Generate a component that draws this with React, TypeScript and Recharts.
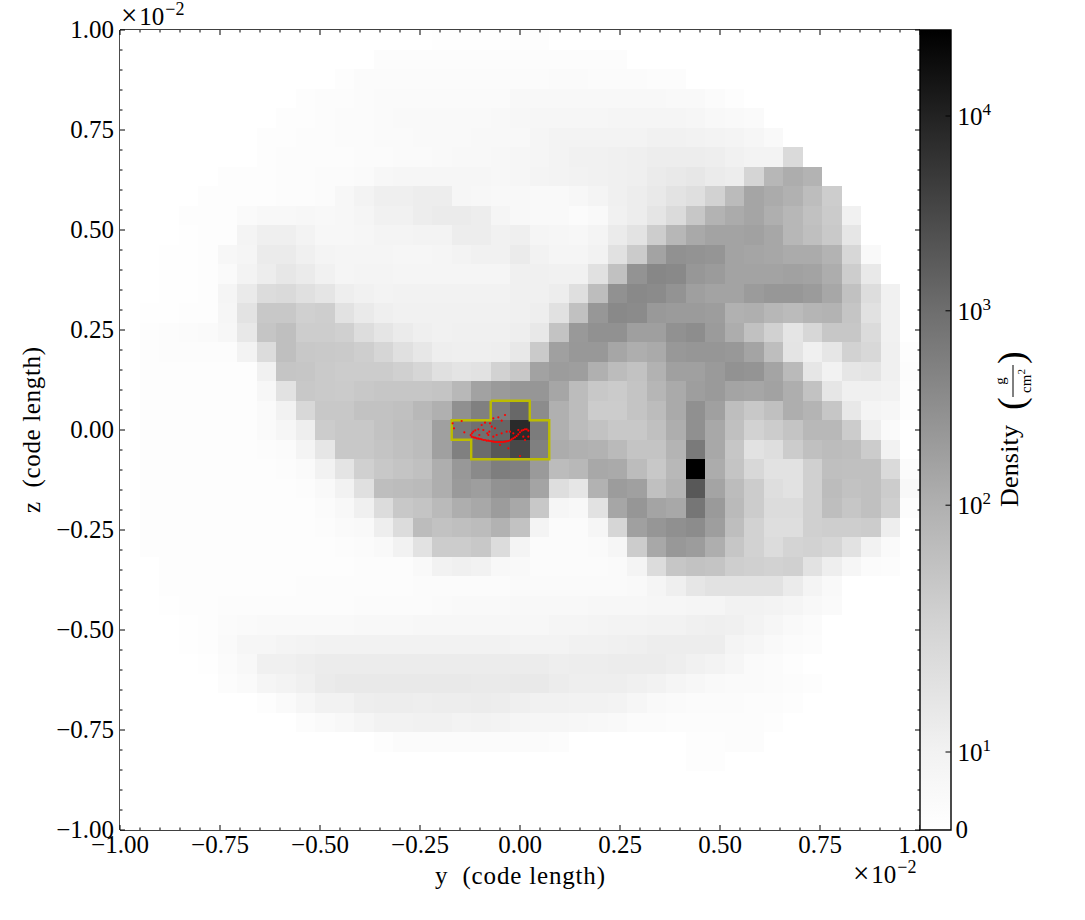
import { Bar, BarChart, Scatter, ScatterChart, XAxis, YAxis } from 'recharts';

// bin centres, in units of 1e-2 code length (41 x 41 projection)
const binCentres = [
  -0.9756, -0.9268, -0.878, -0.8293, -0.7805, -0.7317, -0.6829, -0.6341, -0.5854, -0.5366, -0.4878,
  -0.439, -0.3902, -0.3415, -0.2927, -0.2439, -0.1951, -0.1463, -0.0976, -0.0488, 0, 0.0488, 0.0976,
  0.1463, 0.1951, 0.2439, 0.2927, 0.3415, 0.3902, 0.439, 0.4878, 0.5366, 0.5854, 0.6341, 0.6829,
  0.7317, 0.7805, 0.8293, 0.878, 0.9268, 0.9756,
];

// darkness on the colourbar, 0 = white, 255 = black; first row is the top of the plot
const shade = [
  [0,0,0,0,0,0,0,0,0,0,0,0,0,0,0,0,1,1,1,1,2,2,0,0,0,0,0,0,0,0,0,0,0,0,0,0,0,0,0,0,0],
  [0,0,0,0,0,0,0,0,0,0,0,0,0,3,3,3,3,3,3,3,3,3,3,3,3,3,0,0,0,0,0,0,0,0,0,0,0,0,0,0,0],
  [0,0,0,0,0,0,0,0,0,0,0,2,4,4,4,4,4,4,4,4,4,4,5,5,4,4,4,3,3,0,0,0,0,0,0,0,0,0,0,0,0],
  [0,0,0,0,0,0,0,0,0,2,3,3,4,5,5,5,5,5,5,5,7,7,7,7,7,7,7,7,6,6,4,2,0,0,0,0,0,0,0,0,0],
  [0,0,0,0,0,0,0,0,2,2,3,4,4,5,6,6,6,6,6,7,8,9,9,9,9,10,10,10,10,9,7,6,5,0,0,0,0,0,0,0,0],
  [0,0,0,0,0,0,0,2,2,3,3,4,4,5,5,6,6,6,7,7,7,10,12,12,12,12,12,14,14,13,12,11,9,6,0,0,0,0,0,0,0],
  [0,0,0,0,0,0,0,2,3,3,3,3,4,4,5,5,6,7,7,8,9,10,12,14,14,15,16,18,18,18,17,14,12,12,37,0,0,0,0,0,0],
  [0,0,0,0,0,2,2,2,3,3,4,4,5,8,9,9,9,9,9,8,9,11,12,13,14,15,16,20,22,24,20,18,42,72,82,76,0,0,0,0,0],
  [0,0,0,0,2,2,2,2,3,3,4,8,12,16,16,18,18,9,8,7,7,6,6,8,11,15,18,22,28,32,45,68,90,84,78,66,50,0,0,0,0],
  [0,0,0,2,2,2,5,7,7,8,7,8,10,14,14,18,20,20,18,10,7,6,6,4,6,14,18,26,36,56,76,84,90,80,72,62,52,14,0,0,0],
  [0,0,0,1,2,2,11,16,16,12,8,8,9,11,11,12,12,18,18,14,16,10,9,8,11,20,28,50,72,86,92,92,94,88,72,64,54,25,0,0,0],
  [0,0,1,1,2,8,10,20,20,15,11,10,10,10,9,9,10,12,14,14,20,13,10,10,13,30,52,92,110,108,106,92,90,88,84,84,76,40,6,0,0],
  [0,0,1,1,2,5,12,18,24,20,14,10,11,11,10,10,10,10,10,10,15,15,14,14,30,62,108,120,118,104,100,92,92,92,94,92,82,50,22,0,0],
  [0,0,1,1,2,10,21,35,37,31,26,17,14,12,13,13,13,13,13,13,15,15,18,32,66,110,118,116,108,96,92,92,100,104,104,100,88,62,34,14,0],
  [0,1,1,2,2,9,28,55,55,47,49,29,21,16,14,14,14,14,14,14,15,17,30,62,104,118,116,102,100,100,98,78,80,72,68,74,76,58,30,14,0],
  [0,2,3,4,5,8,23,58,64,50,50,47,34,26,20,16,14,15,15,15,17,23,60,102,110,110,96,96,110,114,100,82,62,46,26,40,56,56,36,14,0],
  [0,2,3,3,3,3,12,35,64,55,54,53,49,41,31,24,17,16,16,17,23,53,95,103,103,89,81,85,103,105,105,103,91,65,27,15,25,45,39,15,2],
  [0,2,2,2,2,2,2,14,58,57,53,51,51,51,47,41,31,27,29,45,55,93,99,97,79,67,61,77,95,95,101,109,107,91,69,25,13,25,27,15,3],
  [0,2,2,2,2,2,2,8,29,55,53,52,55,57,57,57,59,71,93,101,105,105,89,67,55,52,59,73,85,97,101,91,89,93,81,61,25,15,15,13,2],
  [0,2,2,2,2,2,2,5,13,39,55,55,61,61,63,71,79,111,127,131,151,115,79,67,51,51,59,67,85,111,95,65,55,63,81,75,57,23,11,9,2],
  [0,2,2,2,2,2,2,5,9,17,51,55,55,61,65,67,95,135,143,153,213,131,79,67,61,55,55,63,81,111,87,63,45,51,59,71,71,51,17,5,0],
  [0,2,2,2,2,2,2,3,4,11,25,55,55,59,63,67,95,127,147,167,183,127,83,79,77,69,59,59,75,133,87,57,29,33,51,63,67,65,51,13,0],
  [0,2,2,2,2,2,2,2,3,5,13,27,47,55,59,63,81,103,117,129,127,101,67,71,87,85,67,55,71,255,83,59,39,29,29,47,64,63,63,37,4],
  [0,2,2,2,2,2,2,2,2,3,6,13,31,65,67,69,81,101,97,109,111,91,33,25,77,99,95,63,75,167,91,67,51,33,29,47,67,61,63,51,7],
  [0,2,2,2,2,2,2,2,2,2,4,7,15,35,55,59,69,81,87,99,87,55,9,7,29,89,105,91,87,137,101,69,51,35,35,47,65,57,63,48,3],
  [0,2,2,2,2,2,2,2,2,2,3,5,6,17,35,67,61,64,67,77,61,11,4,4,9,41,95,105,111,115,97,65,45,33,33,47,49,49,51,17,0],
  [0,2,2,2,2,2,2,2,2,2,2,3,4,6,13,29,51,51,55,35,11,4,4,4,5,9,51,87,103,99,81,57,45,35,43,45,41,29,13,5,0],
  [0,0,2,2,2,2,2,2,2,2,2,2,3,3,3,6,13,15,13,7,6,4,4,4,4,5,11,35,57,61,59,49,47,45,47,29,17,9,4,3,0],
  [0,0,2,2,2,2,2,2,2,3,3,3,3,3,3,4,4,4,4,4,5,5,5,5,5,5,6,10,16,25,29,29,29,29,20,11,6,0,0,0,0],
  [0,0,1,2,2,3,3,3,3,3,3,3,4,4,4,4,5,6,6,6,7,7,7,7,8,8,8,9,9,10,10,13,13,12,10,7,5,0,0,0,0],
  [0,0,0,1,2,4,5,6,6,6,6,6,7,7,7,8,8,8,8,8,8,8,10,10,11,12,12,13,13,15,16,15,12,9,6,4,0,0,0,0,0],
  [0,0,0,1,2,5,9,9,11,12,13,13,13,13,13,13,13,13,13,13,12,12,12,14,14,15,16,18,18,18,18,11,9,6,4,3,0,0,0,0,0],
  [0,0,0,0,1,4,7,15,15,17,19,19,19,19,19,19,19,19,19,19,19,19,17,18,18,19,19,19,17,14,12,9,5,4,2,0,0,0,0,0,0],
  [0,0,0,0,0,3,5,10,12,15,20,22,22,22,22,22,22,22,21,21,22,22,19,17,17,17,15,13,10,8,6,5,5,4,3,2,0,0,0,0,0],
  [0,0,0,0,0,0,0,2,5,9,13,13,17,18,18,17,18,18,19,18,16,14,14,13,13,12,9,6,5,4,4,4,3,3,2,0,0,0,0,0,0],
  [0,0,0,0,0,0,0,0,0,3,5,7,10,13,13,14,14,12,13,12,10,9,9,8,7,6,4,4,3,3,3,3,3,2,0,0,0,0,0,0,0],
  [0,0,0,0,0,0,0,0,0,0,0,0,0,2,4,4,4,4,4,4,4,4,3,0,0,0,0,0,0,2,2,3,3,0,0,0,0,0,0,0,0],
  [0,0,0,0,0,0,0,0,0,0,0,0,0,0,0,0,0,0,0,0,0,0,0,0,0,0,0,0,0,2,2,0,0,0,0,0,0,0,0,0,0],
  [0,0,0,0,0,0,0,0,0,0,0,0,0,0,0,0,0,0,0,0,0,0,0,0,0,0,0,0,0,0,0,0,0,0,0,0,0,0,0,0,0],
  [0,0,0,0,0,0,0,0,0,0,0,0,0,0,0,0,0,0,0,0,0,0,0,0,0,0,0,0,0,0,0,0,0,0,0,0,0,0,0,0,0],
  [0,0,0,0,0,0,0,0,0,0,0,0,0,0,0,0,0,0,0,0,0,0,0,0,0,0,0,0,0,0,0,0,0,0,0,0,0,0,0,0,0],
];

// refinement outline around the central cells
const outlineY = [-0.0732, 0.0244, 0.0244, 0.0732, 0.0732, -0.122, -0.122, -0.1707, -0.1707, -0.0732, -0.0732];
const outlineZ = [0.0732, 0.0732, 0.0244, 0.0244, -0.0732, -0.0732, -0.0244, -0.0244, 0.0244, 0.0244, 0.0732];

// particles
const particleY = [
  -0.1233, -0.1208, -0.1167, -0.1125, -0.1083, -0.1042, -0.1, -0.0958, -0.0917, -0.0875, -0.0833, -0.0792, -0.075,
  -0.0708, -0.0667, -0.0625, -0.0583, -0.0542, -0.05, -0.0458, -0.0417, -0.0375, -0.0333, -0.0292, -0.025, -0.0208,
  -0.0167, -0.0125, -0.0083, -0.0042, 0, 0.0042, 0.0083, 0.0125, 0.0167, 0.0208, -0.12, -0.1167, -0.1117, -0.1042,
  -0.1683, -0.165, -0.1458, -0.1392, -0.0958, -0.0875, -0.075, -0.0667, -0.0542, -0.0375, -0.0458, -0.025, -0.0292,
  0, 0.0125, 0.0208, -0.05, -0.0767, -0.0917, -0.0625, -0.0333, -0.0167, -0.1017, -0.0817, -0.0667, -0.0583, -0.0708,
  -0.0792, -0.0458, 0.0083, -0.0042,
];
const particleZ = [
  -0.0125, -0.0167, -0.0183, -0.0192, -0.0208, -0.0217, -0.0225, -0.0233, -0.025, -0.025, -0.0267, -0.0267, -0.0275,
  -0.0283, -0.0292, -0.03, -0.03, -0.03, -0.03, -0.03, -0.03, -0.0292, -0.0283, -0.0275, -0.0258, -0.0233,
  -0.0208, -0.0183, -0.015, -0.0108, -0.0058, -0.0017, 0, 0.0017, 0.0017, -0.0017, -0.0083, -0.0042, -0.0008, 0.0017,
  0.0167, 0.0042, 0.0225, -0.0058, 0.0125, 0.0183, 0.0167, 0.0292, 0.0317, 0.0375, 0.0233, -0.0042, -0.0458,
  -0.065, -0.025, -0.0167, -0.0375, -0.0042, 0, 0.0042, -0.0042, -0.0083, -0.0125, -0.0083, -0.0167, -0.0125, 0.0083,
  -0.0125, -0.0083, -0.0167, 0,
];

const axisTicks = [
  -1, -0.95, -0.9, -0.85, -0.8, -0.75, -0.7, -0.65, -0.6, -0.55, -0.5, -0.45, -0.4, -0.35, -0.3, -0.25, -0.2, -0.15,
  -0.1, -0.05, 0, 0.05, 0.1, 0.15, 0.2, 0.25, 0.3, 0.35, 0.4, 0.45, 0.5, 0.55, 0.6, 0.65, 0.7, 0.75, 0.8, 0.85, 0.9,
  0.95, 1,
];
const majorTicks = [-1, -0.75, -0.5, -0.25, 0, 0.25, 0.5, 0.75, 1];

// colourbar: symlog position (0 bottom, 1 top) against grey level
const colorbarPos = [0, 0.0975, 0.2625, 0.406, 0.649, 0.8925, 1];
const colorbarGrey = [255, 242, 210, 176, 110, 34, 0];
const colorbarTickPos = [0, 0.0975, 0.406, 0.649, 0.8925];
const colorbarExponent = ['', '1', '2', '3', '4'];

const cells = shade.flatMap((row, r) =>
  row.map((s, c) => ({ y: binCentres[c], z: binCentres[40 - r], s })),
);
const outline = outlineY.map((y, i) => ({ y, z: outlineZ[i] }));
const particles = particleY.map((y, i) => ({ y, z: particleZ[i] }));

const W = 1085;
const H = 920;
const CELL = 800 / 41;
const FONT = '"Liberation Serif", serif';
const TICK_SIZE = 25;

const tickLabel = (v: number) => v.toFixed(2).replace('-', '\u2212');

function CellShape(props: any) {
  const g = 255 - props.payload.s;
  return (
    <rect
      x={props.cx - CELL / 2}
      y={props.cy - CELL / 2}
      width={CELL + 0.4}
      height={CELL + 0.4}
      fill={`rgb(${g},${g},${g})`}
      shapeRendering="crispEdges"
    />
  );
}

function BottomTick({ x, y, payload }: any) {
  const major = majorTicks.includes(payload.value);
  return (
    <g>
      <line x1={x} x2={x} y1={y} y2={y - (major ? 5 : 2.5)} stroke="#000" strokeWidth={1} />
      {major && (
        <text x={x} y={y + 23} textAnchor="middle" fontFamily={FONT} fontSize={TICK_SIZE} fill="#000">
          {tickLabel(payload.value)}
        </text>
      )}
    </g>
  );
}

function TopTick({ x, y, payload }: any) {
  const major = majorTicks.includes(payload.value);
  return <line x1={x} x2={x} y1={y} y2={y + (major ? 5 : 2.5)} stroke="#000" strokeWidth={1} />;
}

function LeftTick({ x, y, payload }: any) {
  const major = majorTicks.includes(payload.value);
  return (
    <g>
      <line x1={x} x2={x + (major ? 5 : 2.5)} y1={y} y2={y} stroke="#000" strokeWidth={1} />
      {major && (
        <text x={x - 6} y={y + 8} textAnchor="end" fontFamily={FONT} fontSize={TICK_SIZE} fill="#000">
          {tickLabel(payload.value)}
        </text>
      )}
    </g>
  );
}

function RightTick({ x, y, payload }: any) {
  const major = majorTicks.includes(payload.value);
  return <line x1={x} x2={x - (major ? 5 : 2.5)} y1={y} y2={y} stroke="#000" strokeWidth={1} />;
}

function ColorbarTick({ x, y, payload }: any) {
  const i = colorbarTickPos.indexOf(payload.value);
  if (i === 0) {
    return (
      <text x={x + 5} y={y + 8} fontFamily={FONT} fontSize={TICK_SIZE} fill="#000">
        0
      </text>
    );
  }
  return (
    <g>
      <line x1={x} x2={x - 5} y1={y} y2={y} stroke="#000" strokeWidth={1} />
      <text x={x + 7} y={y + 9} fontFamily={FONT} fontSize={TICK_SIZE} fill="#000">
        10
        <tspan dy={-10} fontSize={17}>
          {colorbarExponent[i]}
        </tspan>
      </text>
    </g>
  );
}

function OffsetText({ x, y }: { x: number; y: number }) {
  return (
    <text x={x} y={y} fontFamily={FONT} fontSize={TICK_SIZE} fill="#000">
      <tspan fontSize={29}>×</tspan>
      <tspan dx={2}>10</tspan>
      <tspan dy={-10} dx={1} fontSize={18}>
        −2
      </tspan>
    </text>
  );
}

function Annotations() {
  return (
    <svg width={W} height={H} style={{ position: 'absolute', left: 0, top: 0, pointerEvents: 'none' }}>
      <OffsetText x={121} y={25} />
      <OffsetText x={853} y={883} />
      <text x={435} y={884} fontFamily={FONT} fontSize={25} textLength={170} xmlSpace="preserve">
        y  (code length)
      </text>
      <g transform="translate(40,513) rotate(-90)">
        <text x={0} y={0} fontFamily={FONT} fontSize={25} textLength={166} xmlSpace="preserve">
          z  (code length)
        </text>
      </g>
      <g transform="translate(1018,507) rotate(-90)">
        <text x={0} y={0} fontFamily={FONT} fontSize={26} textLength={82}>
          Density
        </text>
        <text x={97} y={6} fontFamily={FONT} fontSize={38} fontWeight={300}>
          (
        </text>
        <text x={126} y={-13} textAnchor="middle" fontFamily={FONT} fontSize={15}>
          g
        </text>
        <line x1={110} x2={142} y1={-5} y2={-5} stroke="#000" strokeWidth={1} />
        <text x={126} y={13} textAnchor="middle" fontFamily={FONT} fontSize={15}>
          cm
          <tspan dy={-6} fontSize={11}>
            2
          </tspan>
        </text>
        <text x={143} y={6} fontFamily={FONT} fontSize={38} fontWeight={300}>
          )
        </text>
      </g>
    </svg>
  );
}

export default function App() {
  return (
    <div style={{ position: 'absolute', left: 0, top: 0, width: W, height: H, background: '#fff' }}>
      <div style={{ position: 'absolute', left: 0, top: 0 }}>
        <ScatterChart width={W} height={H} margin={{ top: 29, right: W - 921, bottom: H - 831, left: 119 }}>
          <XAxis
            xAxisId="bottom"
            type="number"
            dataKey="y"
            domain={[-1, 1]}
            ticks={axisTicks}
            interval={0}
            height={1}
            tickSize={0}
            tickMargin={0}
            tickLine={false}
            axisLine={{ stroke: '#000', strokeWidth: 1.4 }}
            tick={BottomTick}
            allowDataOverflow
          />
          <XAxis
            xAxisId="top"
            orientation="top"
            type="number"
            dataKey="y"
            domain={[-1, 1]}
            ticks={axisTicks}
            interval={0}
            height={1}
            tickSize={0}
            tickMargin={0}
            tickLine={false}
            axisLine={{ stroke: '#000', strokeWidth: 1.4 }}
            tick={TopTick}
            allowDataOverflow
          />
          <YAxis
            yAxisId="left"
            type="number"
            dataKey="z"
            domain={[-1, 1]}
            ticks={axisTicks}
            interval={0}
            width={1}
            tickSize={0}
            tickMargin={0}
            tickLine={false}
            axisLine={{ stroke: '#000', strokeWidth: 1.4 }}
            tick={LeftTick}
            allowDataOverflow
          />
          <YAxis
            yAxisId="right"
            orientation="right"
            type="number"
            dataKey="z"
            domain={[-1, 1]}
            ticks={axisTicks}
            interval={0}
            width={1}
            tickSize={0}
            tickMargin={0}
            tickLine={false}
            axisLine={{ stroke: '#000', strokeWidth: 1.4 }}
            tick={RightTick}
            allowDataOverflow
          />
          <Scatter data={cells} xAxisId="bottom" yAxisId="left" shape={CellShape} isAnimationActive={false} />
          <Scatter
            data={outline}
            xAxisId="bottom"
            yAxisId="left"
            line={{ stroke: '#bcbc00', strokeWidth: 2.4 }}
            lineType="joint"
            shape={() => <g />}
            isAnimationActive={false}
          />
          <Scatter
            data={particles}
            xAxisId="top"
            yAxisId="right"
            shape={(p: any) => <circle cx={p.cx} cy={p.cy} r={1.1} fill="#ff0000" />}
            isAnimationActive={false}
          />
        </ScatterChart>
      </div>
      <div style={{ position: 'absolute', left: 0, top: 0 }}>
        <BarChart
          width={W}
          height={H}
          data={[{ name: 'Density', top: 1 }]}
          margin={{ top: 30, right: W - 951.5, bottom: H - 830, left: 920 }}
          barCategoryGap={0}
        >
          <defs>
            <linearGradient id="colorbarFill" x1="0" y1="1" x2="0" y2="0">
              {colorbarPos.map((p, i) => (
                <stop
                  key={p}
                  offset={p}
                  stopColor={`rgb(${colorbarGrey[i]},${colorbarGrey[i]},${colorbarGrey[i]})`}
                />
              ))}
            </linearGradient>
          </defs>
          <XAxis dataKey="name" hide />
          <YAxis
            orientation="right"
            type="number"
            domain={[0, 1]}
            ticks={colorbarTickPos}
            interval={0}
            width={1}
            tickSize={0}
            tickMargin={0}
            tickLine={false}
            axisLine={false}
            tick={ColorbarTick}
          />
          <Bar dataKey="top" fill="url(#colorbarFill)" stroke="#000" strokeWidth={1.4} isAnimationActive={false} />
        </BarChart>
      </div>
      <Annotations />
    </div>
  );
}
